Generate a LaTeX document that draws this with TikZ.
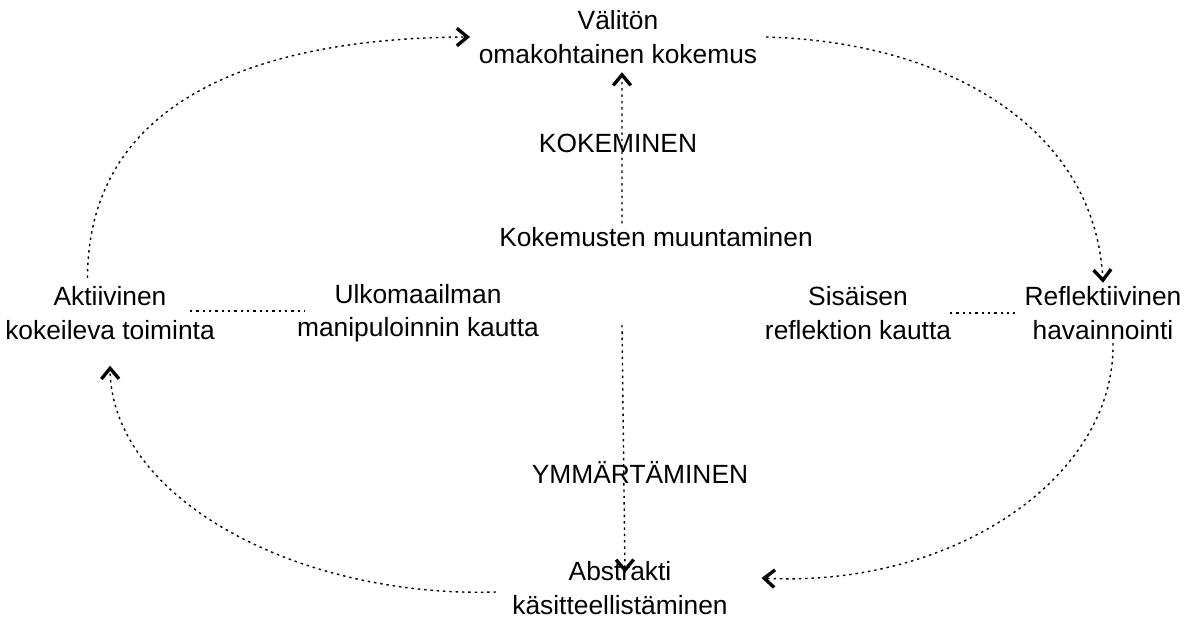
\documentclass[tikz,border=0pt]{standalone}
\usepackage{fontspec}
\setmainfont{Liberation Sans}
\usetikzlibrary{arrows.meta}

\begin{document}
\begin{tikzpicture}[x=0.02cm,y=-0.02cm,
  lbl/.style={font=\fontsize{15}{19}\selectfont,align=center,inner sep=2pt},
  dots/.style={line width=0.8pt,dash pattern=on 1.4pt off 2.2pt},
  arr/.style={dots,-{Straight Barb[length=6pt,width=10pt,line width=1.9pt]}}
]
  \useasboundingbox (0,0) rectangle (1190,621);

  % ---- the four stages ------------------------------------
  \node[lbl] (exper) at (618,37)  {Välitön\\omakohtainen kokemus};
  \node[lbl] (refl)  at (1103,313) {Reflektiivinen\\havainnointi};
  \node[lbl] (abstr) at (620,588) {Abstrakti\\käsitteellistäminen};
  \node[lbl] (akt)   at (110,313) {Aktiivinen\\kokeileva toiminta};

  % ---- inner labels ---------------------------------------
  \node[lbl] (kok)   at (618,143) {KOKEMINEN};
  \node[lbl] (muunt) at (656,237) {Kokemusten muuntaminen};
  \node[lbl] (ulko)  at (418,313) {Ulkomaailman\\manipuloinnin kautta};
  \node[lbl] (sis)   at (858,313) {Sisäisen\\reflektion kautta};
  \node[lbl] (ymm)   at (640,472) {YMMÄRTÄMINEN};
  \coordinate (mid) at (622,325);

  % ---- cycle ----------------------------------------------
  \draw[arr] ([xshift=-0.45cm,yshift=0.1cm]akt.north)
    .. controls (88,110) and (240,38) .. ([xshift=-0.1cm]exper.west);
  \draw[arr] ([xshift=0.1cm]exper.east) .. controls (950,42) and (1095,130) .. (refl.north);
  \draw[arr] ([xshift=0.2cm]refl.south) .. controls (1115,480) and (950,588) .. ([xshift=0.6cm,yshift=0.2cm]abstr.east);
  \draw[arr] ([xshift=-0.25cm,yshift=-0.08cm]abstr.west) .. controls (300,598) and (112,500) .. ([yshift=-0.45cm]akt.south);

  % ---- axes -----------------------------------------------
  \draw[arr] ([xshift=-0.68cm]muunt.north) -- ([xshift=0.08cm,yshift=-0.1cm]exper.south);
  \draw[arr] (mid) -- ([xshift=0.1cm,yshift=-0.3cm]abstr.north);
  \draw[dots] (190,311) -- (305,311);
  \draw[dots] (950,313) -- (1015,313);
\end{tikzpicture}
\end{document}
